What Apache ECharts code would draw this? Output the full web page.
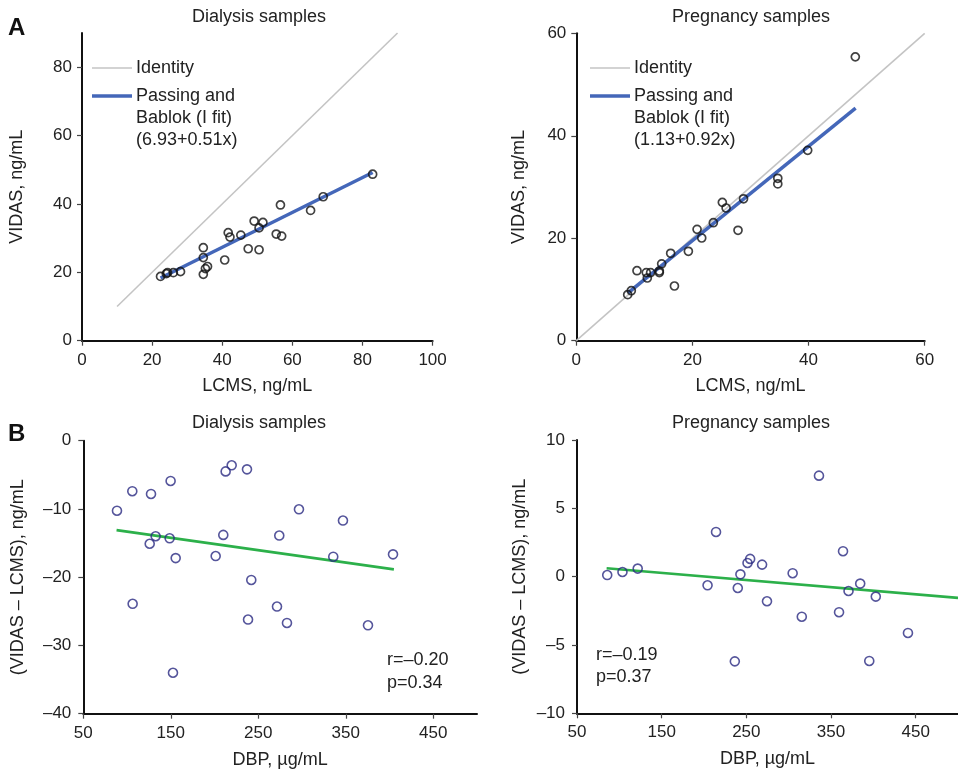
<!DOCTYPE html>
<html>
<head>
<meta charset="utf-8">
<script src="https://cdn.jsdelivr.net/npm/echarts@6/dist/echarts.min.js"></script>
<style>
html,body{margin:0;padding:0;background:#fff;}
#chart{width:958px;height:774px;}
</style>
</head>
<body>
<div id="chart"></div>
<script>
// ---------- Data ----------
// Panel A - Dialysis samples (LCMS vs VIDAS, ng/mL)
const dialysisLCMS  = [22.4, 24.05, 24.4, 26.05, 28.1, 34.6, 34.6, 34.6, 35.2, 35.8, 40.7, 41.7, 42.2, 45.3, 47.4, 49.1, 50.5, 50.5, 51.6, 55.4, 56.95, 56.6, 65.2, 68.8, 82.9];
const dialysisVIDAS = [18.8, 19.6, 19.9, 19.9, 20.2, 27.2, 24.3, 19.4, 21.1, 21.7, 23.6, 31.6, 30.3, 30.9, 26.9, 35.0, 33.0, 26.6, 34.6, 31.2, 30.6, 39.7, 38.1, 42.1, 48.7];
const dialysisIdentity = [10, 90];
const dialysisFit = { intercept: 6.93, slope: 0.51, range: [22.4, 82.9] };

// Panel A - Pregnancy samples
const pregLCMS  = [8.85, 9.47, 10.45, 12.05, 12.23, 12.8, 14.3, 14.3, 14.7, 16.25, 16.9, 19.3, 20.8, 21.6, 23.6, 25.15, 25.8, 27.85, 28.8, 34.7, 34.7, 39.85, 48.05];
const pregVIDAS = [8.98, 9.76, 13.66, 13.3, 12.24, 13.3, 13.6, 13.3, 15.0, 17.06, 10.68, 17.45, 21.74, 20.05, 23.03, 27.0, 25.9, 21.55, 27.7, 31.7, 30.6, 37.16, 55.4];
const pregIdentity = [0, 60];
const pregFit = { intercept: 1.13, slope: 0.92, range: [8.9, 48.1] };

// Panel B - Dialysis samples (DBP vs VIDAS - LCMS)
const dialysisDBP  = [88.5, 106, 106.4, 127.4, 125.9, 132.7, 148.7, 149.8, 155.6, 152.5, 201.3, 210, 212.7, 219.6, 237.1, 242, 238.3, 271.4, 274, 282.8, 296.5, 335.7, 346.8, 375.4, 404];
const dialysisDiff = [-10.26, -7.4, -23.9, -7.8, -15.1, -14.0, -14.3, -5.9, -17.2, -34.0, -16.9, -13.8, -4.5, -3.6, -4.2, -20.4, -26.2, -24.3, -13.9, -26.7, -10.05, -17.0, -11.7, -27.05, -16.65];
const dialysisTrendX = [88, 405];
const dialysisTrendY = [-13.1, -18.85];

// Panel B - Pregnancy samples
const pregDBP  = [85.7, 103.7, 121.7, 204.2, 214.2, 236.4, 239.9, 243, 251.4, 254.5, 268.6, 274.4, 304.7, 315.5, 335.8, 359.5, 364.2, 370.7, 384.5, 395.2, 402.9, 440.9];
const pregDiff = [0.12, 0.34, 0.59, -0.63, 3.27, -6.2, -0.83, 0.17, 1.0, 1.3, 0.88, -1.8, 0.25, -2.93, 7.39, -2.6, 1.86, -1.05, -0.51, -6.17, -1.46, -4.12];
const pregTrendX = [85, 500];
const pregTrendY = [0.61, -1.55];

// Tick labels
const dialysisATicks = [0, 20, 40, 60, 80];
const dialysisAXTicks = [0, 20, 40, 60, 80, 100];
const pregATicks = [0, 20, 40, 60];
const dbpTicks = [50, 150, 250, 350, 450];
const dialysisBYTicks = [-40, -30, -20, -10, 0];
const pregBYTicks = [-10, -5, 0, 5, 10];

// ---------- Helpers ----------
const FONT = '"Liberation Sans", Arial, sans-serif';
const TXT = '#222';
const zip = (a, b) => a.map((v, i) => [v, b[i]]);
const fmt = v => String(v).replace('-', '\u2013');

function axis(opts) {
  return Object.assign({
    type: 'value',
    splitLine: { show: false },
    axisLine: { show: true, onZero: false, lineStyle: { color: '#111', width: 2 } },
    axisTick: { show: true, length: 5, inside: false, lineStyle: { color: '#444', width: 1.2 } },
    axisLabel: { color: TXT, fontSize: 17, fontFamily: FONT, formatter: fmt },
    nameLocation: 'middle',
    nameTextStyle: { color: TXT, fontSize: 18, fontFamily: FONT },
  }, opts);
}
function ticked(base, ticks, labelMargin) {
  base.axisTick = Object.assign({}, base.axisTick, { customValues: ticks });
  base.axisLabel = Object.assign({}, base.axisLabel, { customValues: ticks, margin: labelMargin });
  return base;
}

const gridA1 = { left: 82, top: 33, width: 350.6, height: 307.7 };
const gridA2 = { left: 576.3, top: 33.3, width: 348.4, height: 307.4 };
const gridB1 = { left: 83.3, top: 440.7, width: 393.7, height: 273 };
const gridB2 = { left: 577, top: 440, width: 391, height: 273.3 };

const xAxes = [
  ticked(axis({ gridIndex: 0, min: 0, max: 100, interval: 20, name: 'LCMS, ng/mL', nameGap: 36 }), dialysisAXTicks, 11),
  ticked(axis({ gridIndex: 1, min: 0, max: 60, interval: 20, name: 'LCMS, ng/mL', nameGap: 36 }), pregATicks, 11),
  ticked(axis({ gridIndex: 2, min: 50, max: 500, interval: 50, name: 'DBP, \u00b5g/mL', nameGap: 37 }), dbpTicks, 11),
  ticked(axis({ gridIndex: 3, min: 50, max: 500, interval: 50, name: 'DBP, \u00b5g/mL', nameGap: 37 }), dbpTicks, 11),
];
const yAxes = [
  ticked(axis({ gridIndex: 0, min: 0, max: 90, interval: 10, name: 'VIDAS, ng/mL', nameGap: 56 }), dialysisATicks, 10),
  ticked(axis({ gridIndex: 1, min: 0, max: 60, interval: 20, name: 'VIDAS, ng/mL', nameGap: 48 }), pregATicks, 10),
  ticked(axis({ gridIndex: 2, min: -40, max: 0, interval: 10, name: '(VIDAS \u2013 LCMS), ng/mL', nameGap: 56 }), dialysisBYTicks, 12),
  ticked(axis({ gridIndex: 3, min: -10, max: 10, interval: 5, name: '(VIDAS \u2013 LCMS), ng/mL', nameGap: 48 }), pregBYTicks, 12),
];

const circleA = { color: 'rgba(0,0,0,0)', borderColor: '#111', borderWidth: 1.7 };
const circleB = { color: 'rgba(0,0,0,0)', borderColor: '#2a2a82', borderWidth: 1.6 };

function fitLine(f) { return f.range.map(x => [x, f.intercept + f.slope * x]); }

const series = [
  { type: 'line', xAxisIndex: 0, yAxisIndex: 0, data: zip(dialysisIdentity, dialysisIdentity), symbol: 'none', lineStyle: { color: '#c4c4c4', width: 1.6 }, z: 1, silent: true },
  { type: 'line', xAxisIndex: 0, yAxisIndex: 0, data: fitLine(dialysisFit), symbol: 'none', lineStyle: { color: '#4467b9', width: 3.5 }, z: 2, silent: true },
  { type: 'scatter', xAxisIndex: 0, yAxisIndex: 0, data: zip(dialysisLCMS, dialysisVIDAS), symbol: 'circle', symbolSize: 8, itemStyle: circleA, z: 3 },

  { type: 'line', xAxisIndex: 1, yAxisIndex: 1, data: zip(pregIdentity, pregIdentity), symbol: 'none', lineStyle: { color: '#c4c4c4', width: 1.6 }, z: 1, silent: true },
  { type: 'line', xAxisIndex: 1, yAxisIndex: 1, data: fitLine(pregFit), symbol: 'none', lineStyle: { color: '#4467b9', width: 3.5 }, z: 2, silent: true },
  { type: 'scatter', xAxisIndex: 1, yAxisIndex: 1, data: zip(pregLCMS, pregVIDAS), symbol: 'circle', symbolSize: 8, itemStyle: circleA, z: 3 },

  { type: 'line', xAxisIndex: 2, yAxisIndex: 2, data: zip(dialysisTrendX, dialysisTrendY), symbol: 'none', lineStyle: { color: '#2cb04a', width: 2.6 }, z: 1, silent: true },
  { type: 'scatter', xAxisIndex: 2, yAxisIndex: 2, data: zip(dialysisDBP, dialysisDiff), symbol: 'circle', symbolSize: 9, itemStyle: circleB, z: 3 },

  { type: 'line', xAxisIndex: 3, yAxisIndex: 3, data: zip(pregTrendX, pregTrendY), symbol: 'none', lineStyle: { color: '#2cb04a', width: 2.6 }, z: 1, silent: true, clip: false },
  { type: 'scatter', xAxisIndex: 3, yAxisIndex: 3, data: zip(pregDBP, pregDiff), symbol: 'circle', symbolSize: 9, itemStyle: circleB, z: 3 },
];

function text(x, y, str, extra) {
  return { type: 'text', x: x, y: y, style: Object.assign({ text: str, fill: TXT, font: '18px ' + FONT, textAlign: 'left', textVerticalAlign: 'middle' }, extra || {}) };
}
function legend(x0, eq) {
  return [
    { type: 'line', shape: { x1: x0, y1: 68, x2: x0 + 40, y2: 68 }, style: { stroke: '#c4c4c4', lineWidth: 1.6 } },
    text(x0 + 44, 68, 'Identity'),
    { type: 'line', shape: { x1: x0, y1: 96, x2: x0 + 40, y2: 96 }, style: { stroke: '#4467b9', lineWidth: 3.5 } },
    text(x0 + 44, 96, 'Passing and'),
    text(x0 + 44, 118, 'Bablok (I fit)'),
    text(x0 + 44, 140, eq),
  ];
}

const graphic = [].concat(
  [
    text(8, 28, 'A', { font: 'bold 24px ' + FONT, fill: '#111' }),
    text(8, 434, 'B', { font: 'bold 24px ' + FONT, fill: '#111' }),
    text(259, 17, 'Dialysis samples', { textAlign: 'center' }),
    text(751, 17, 'Pregnancy samples', { textAlign: 'center' }),
    text(259, 423, 'Dialysis samples', { textAlign: 'center' }),
    text(751, 423, 'Pregnancy samples', { textAlign: 'center' }),
    text(387, 660, 'r=\u20130.20'),
    text(387, 683, 'p=0.34'),
    text(596, 655, 'r=\u20130.19'),
    text(596, 677, 'p=0.37'),
  ],
  legend(92, '(6.93+0.51x)'),
  legend(590, '(1.13+0.92x)')
);

const chart = echarts.init(document.getElementById('chart'), null, { renderer: 'canvas' });
chart.setOption({
  animation: false,
  backgroundColor: '#fff',
  grid: [gridA1, gridA2, gridB1, gridB2],
  xAxis: xAxes,
  yAxis: yAxes,
  series: series,
  graphic: graphic,
});
</script>
</body>
</html>
